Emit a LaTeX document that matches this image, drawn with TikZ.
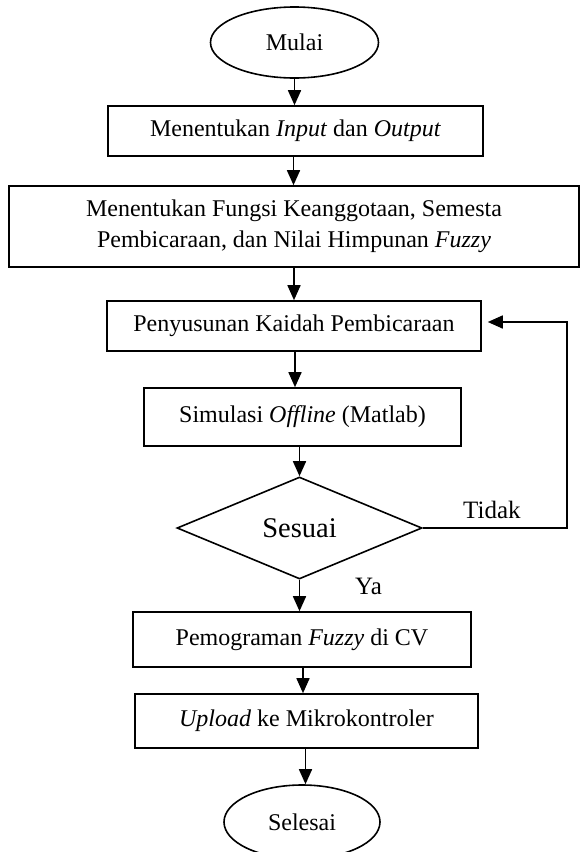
\documentclass[tikz,border=0pt]{standalone}
\usepackage{fontspec}
\setmainfont{Liberation Serif}
\usetikzlibrary{shapes.geometric,arrows.meta}
\begin{document}
\begin{tikzpicture}[x=1pt,y=-1pt,
  every node/.style={font=\fontsize{24}{31}\selectfont},
  procbox/.style={draw,line width=1.6pt,rectangle,inner sep=0pt,align=center},
  terminal/.style={draw,line width=1.6pt,ellipse,inner sep=0pt},
  decision/.style={draw,line width=1.6pt,diamond,inner sep=0pt,font=\fontsize{28.5}{34}\selectfont},
  flowarrow/.style={line width=1.6pt,-{Triangle[width=13pt,length=15pt]}},
  lbl/.style={anchor=base west,inner sep=0pt,font=\fontsize{25}{30}\selectfont}]
  \useasboundingbox (0,0) rectangle (581,852);

  \node[terminal,minimum width=168pt,minimum height=71pt] (mulai) at (294.5,42.5) {Mulai};
  \node[procbox,minimum width=375pt,minimum height=50pt] (io) at (295.5,131) {Menentukan \textit{Input} dan \textit{Output}};
  \node[procbox,minimum width=570pt,minimum height=81pt] (fungsi) at (294,226.5)
    {Menentukan Fungsi Keanggotaan, Semesta\\Pembicaraan, dan Nilai Himpunan \textit{Fuzzy}};
  \node[procbox,minimum width=374pt,minimum height=50pt] (kaidah) at (294,326) {Penyusunan Kaidah Pembicaraan};
  \node[procbox,minimum width=317pt,minimum height=58pt] (simulasi) at (302.5,417) {Simulasi \textit{Offline} (Matlab)};
  \node[decision,minimum width=245pt,minimum height=102pt] (sesuai) at (299.5,528) {Sesuai};
  \node[procbox,minimum width=338pt,minimum height=55pt] (program) at (302,639.5) {Pemograman \textit{Fuzzy} di CV};
  \node[procbox,minimum width=343pt,minimum height=54pt] (upload) at (306.5,721) {\textit{Upload} ke Mikrokontroler};
  \node[terminal,minimum width=156pt,minimum height=74pt] (selesai) at (302,822) {Selesai};

  % main flow
  \draw[flowarrow] (mulai.south) -- (mulai.south |- io.north);
  \draw[flowarrow] ([xshift=-2pt]io.south) -- ([xshift=-2pt]io.south |- fungsi.north);
  \draw[flowarrow] (fungsi.south) -- (fungsi.south |- kaidah.north);
  \draw[flowarrow] ([xshift=1pt]kaidah.south) -- ([xshift=1pt]kaidah.south |- simulasi.north);
  \draw[flowarrow] ([xshift=-3pt]simulasi.south) -- ([xshift=-3pt]simulasi.south |- sesuai.north);
  \draw[flowarrow] (sesuai.south) -- (sesuai.south |- program.north);
  \draw[flowarrow] ([xshift=1pt]program.south) -- ([xshift=1pt]program.south |- upload.north);
  \draw[flowarrow] ([xshift=-1pt]upload.south) -- ([xshift=-1pt]upload.south |- selesai.north);

  % feedback loop when the result does not fit
  \coordinate (loopcorner) at (567,528);
  \draw[flowarrow,shorten >=6pt] (sesuai.east) -- (loopcorner) |- ([yshift=4pt]kaidah.east);

  \node[lbl] (tidak) at (463,518) {Tidak};
  \node[lbl] (ya) at (355,594) {Ya};
\end{tikzpicture}
\end{document}
